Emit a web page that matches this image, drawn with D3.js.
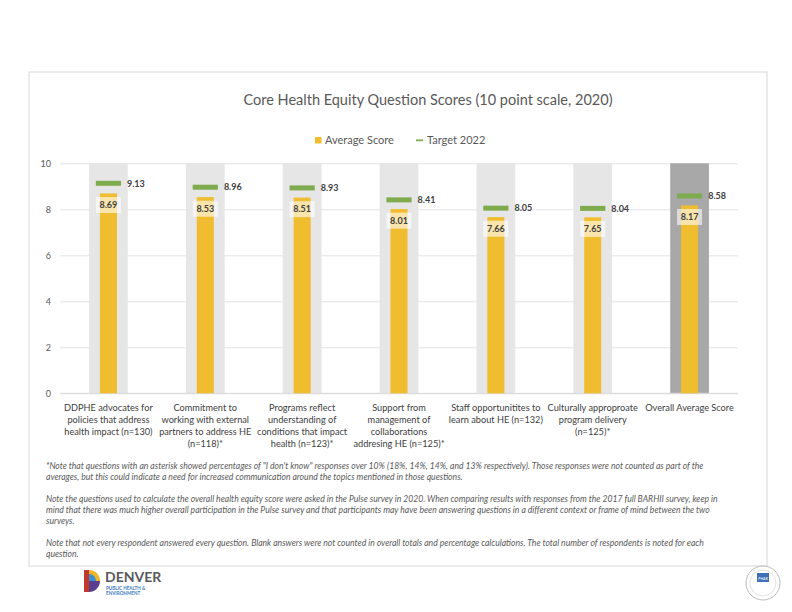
<!DOCTYPE html>
<html>
<head>
<meta charset="utf-8">
<script src="https://cdn.jsdelivr.net/npm/d3@7"></script>
<style>
  html, body { margin: 0; padding: 0; background: #ffffff; }
  svg { display: block; font-family: Lato, "Open Sans", sans-serif; }
</style>
</head>
<body>
<svg id="chart" width="792" height="612"></svg>
<script>
// ---- data ----
const categories = [
  "DDPHE advocates for policies that address health impact (n=130)",
  "Commitment to working with external partners to address HE (n=118)*",
  "Programs reflect understanding of conditions that impact health (n=123)*",
  "Support from management of collaborations addresing HE (n=125)*",
  "Staff opportunitites to learn about HE (n=132)",
  "Culturally approproate program delivery (n=125)*",
  "Overall Average Score"
];
const categoryLines = [
  ["DDPHE advocates for", "policies that address", "health impact (n=130)"],
  ["Commitment to", "working with external", "partners to address HE", "(n=118)*"],
  ["Programs reflect", "understanding of", "conditions that impact", "health (n=123)*"],
  ["Support from", "management of", "collaborations", "addresing HE (n=125)*"],
  ["Staff opportunitites to", "learn about HE (n=132)"],
  ["Culturally approproate", "program delivery", "(n=125)*"],
  ["Overall Average Score"]
];
const averageScore = [8.69, 8.53, 8.51, 8.01, 7.66, 7.65, 8.17];
const target2022 = [9.13, 8.96, 8.93, 8.41, 8.05, 8.04, 8.58];
const yTicks = [0, 2, 4, 6, 8, 10];
const chartTitle = "Core Health Equity Question Scores (10 point scale, 2020)";
const legendLabels = ["Average Score", "Target 2022"];
const footnotes = [
  [
    "*Note that questions with an asterisk showed percentages of \"I don't know\" responses over 10% (18%, 14%, 14%, and 13% respectively).  Those responses were not counted as part of the",
    "averages, but this could indicate a need for increased communication around the topics mentioned in those questions."
  ],
  [
    "Note the questions used to calculate the overall health equity score were asked in the Pulse survey in 2020.  When comparing results with responses from the 2017 full BARHII survey, keep in",
    "mind that there was much higher overall participation in the Pulse survey and that participants may have been answering questions in a different context or frame of mind between the two",
    "surveys."
  ],
  [
    "Note that not every respondent answered every question. Blank answers were not counted in overall totals and percentage calculations. The total number of respondents is noted for each",
    "question."
  ]
];

// ---- layout ----
const svg = d3.select("#chart");
const plot = { left: 60, right: 738, top: 163.3, bottom: 393.3 };
const colors = { bar: "#efbd2f", target: "#7fab4f", bg: "#e6e6e6", bgOverall: "#a9a8a8", grid: "#e3e3e3", text: "#404040", axis: "#595959" };

// frame
svg.append("rect").attr("x", 29).attr("y", 72).attr("width", 738).attr("height", 494)
  .attr("fill", "#fff").attr("stroke", "#dedede").attr("stroke-width", 1.2);

const x = d3.scaleBand().domain(categories).range([plot.left, plot.right]).padding(0);
const y = d3.scaleLinear().domain([0, 10]).range([plot.bottom, plot.top]);
const bw = x.bandwidth();

// gridlines + y axis labels
const yAxis = d3.axisLeft(y).tickValues(yTicks).tickSize(-(plot.right - plot.left)).tickPadding(9);
const gAxis = svg.append("g").attr("transform", `translate(${plot.left},0)`).call(yAxis);
gAxis.select(".domain").remove();
gAxis.selectAll(".tick line").attr("stroke", colors.grid).attr("stroke-width", 1);
gAxis.selectAll(".tick text").attr("fill", colors.axis).attr("font-size", 9).attr("font-family", "Lato, sans-serif");

// background columns (cover gridlines)
svg.append("g").selectAll("rect").data(categories).join("rect")
  .attr("x", d => x(d) + bw * 0.3)
  .attr("width", bw * 0.4)
  .attr("y", y(10))
  .attr("height", y(0) - y(10))
  .attr("fill", (d, i) => i === categories.length - 1 ? colors.bgOverall : colors.bg);

// baseline
svg.append("line").attr("x1", plot.left).attr("x2", plot.right).attr("y1", y(0)).attr("y2", y(0))
  .attr("stroke", "#d9d9d9").attr("stroke-width", 1);

// bars
const barW = bw * 0.176;
svg.append("g").selectAll("rect").data(averageScore).join("rect")
  .attr("x", (d, i) => x(categories[i]) + bw / 2 - barW / 2)
  .attr("width", barW)
  .attr("y", d => y(d))
  .attr("height", d => y(0) - y(d))
  .attr("fill", colors.bar);

// target markers
const tW = bw * 0.26;
svg.append("g").selectAll("rect").data(target2022).join("rect")
  .attr("x", (d, i) => x(categories[i]) + bw / 2 - tW / 2)
  .attr("width", tW)
  .attr("y", d => y(d) - 2.5)
  .attr("height", 5)
  .attr("fill", colors.target);

// target labels
svg.append("g").selectAll("text").data(target2022).join("text")
  .attr("x", (d, i) => x(categories[i]) + bw / 2 + tW / 2 + 6)
  .attr("y", d => y(d) + 3.2)
  .attr("font-size", 9).attr("font-weight", "bold").attr("fill", colors.text)
  .text(d => d.toFixed(2));

// average labels with box
const gAvg = svg.append("g");
averageScore.forEach((d, i) => {
  const cx = x(categories[i]) + bw / 2;
  const cy = y(d) + 11.6;
  gAvg.append("rect").attr("x", cx - 12.5).attr("y", cy - 8).attr("width", 25).attr("height", 16)
    .attr("fill", "#ffffff").attr("fill-opacity", 0.6);
  gAvg.append("text").attr("x", cx).attr("y", cy + 3.3).attr("text-anchor", "middle")
    .attr("font-size", 9).attr("font-weight", "bold").attr("fill", colors.text)
    .text(d.toFixed(2));
});

// category labels
const gCat = svg.append("g");
categoryLines.forEach((lines, i) => {
  const t = gCat.append("text").attr("text-anchor", "middle").attr("font-size", 9.2).attr("fill", colors.text);
  lines.forEach((ln, j) => {
    t.append("tspan").attr("x", x(categories[i]) + bw / 2).attr("y", 410.5 + j * 12).text(ln);
  });
});

// title
svg.append("text").attr("x", 428).attr("y", 104.5).attr("text-anchor", "middle")
  .attr("font-size", 14.5).attr("fill", "#595959").text(chartTitle);

// legend
svg.append("rect").attr("x", 315).attr("y", 137).attr("width", 6.5).attr("height", 6.5).attr("fill", colors.bar);
svg.append("text").attr("x", 325).attr("y", 144).attr("font-size", 11).attr("fill", "#595959").text(legendLabels[0]);
svg.append("line").attr("x1", 416).attr("x2", 423).attr("y1", 140.3).attr("y2", 140.3).attr("stroke", colors.target).attr("stroke-width", 1.8);
svg.append("text").attr("x", 427).attr("y", 144).attr("font-size", 11).attr("fill", "#595959").text(legendLabels[1]);

// footnotes
const paraY = [466, 499, 543];
const gNote = svg.append("g").attr("font-size", 8.6).attr("font-style", "italic").attr("fill", "#595959");
footnotes.forEach((para, p) => {
  para.forEach((ln, j) => {
    gNote.append("text").attr("x", 46).attr("y", paraY[p] + 3 + j * 11).text(ln);
  });
});

// Denver logo
const logo = svg.append("g");
logo.append("rect").attr("x", 84).attr("y", 570).attr("width", 5).attr("height", 22).attr("fill", "#c0392b");
logo.append("path").attr("d", "M89,570 A11,11 0 0 1 100,581 L89,581 Z").attr("fill", "#f0b429");
logo.append("path").attr("d", "M89,581 L100,581 A11,11 0 0 1 89,592 Z").attr("fill", "#5b3d8f");
logo.append("path").attr("d", "M89,574 A7,7 0 0 1 96,581 L89,581 Z").attr("fill", "#3a8fd0");
logo.append("text").attr("x", 105).attr("y", 582).attr("font-size", 14).attr("font-weight", "bold").attr("fill", "#58595b").text("DENVER");
logo.append("text").attr("x", 106).attr("y", 590).attr("font-size", 4.6).attr("font-weight", "bold").attr("fill", "#3b7bbf").text("PUBLIC HEALTH &");
logo.append("text").attr("x", 106).attr("y", 595).attr("font-size", 4.6).attr("font-weight", "bold").attr("fill", "#3b7bbf").text("ENVIRONMENT");

// PHAB seal
const seal = svg.append("g");
seal.append("circle").attr("cx", 763).attr("cy", 583).attr("r", 17).attr("fill", "#fff").attr("stroke", "#bbbbbb").attr("stroke-width", 1);
seal.append("circle").attr("cx", 763).attr("cy", 583).attr("r", 13).attr("fill", "none").attr("stroke", "#cccccc").attr("stroke-width", 0.6);
seal.append("rect").attr("x", 757).attr("y", 573).attr("width", 12).attr("height", 9).attr("fill", "#3f6fb6");
seal.append("text").attr("x", 763).attr("y", 580).attr("text-anchor", "middle").attr("font-size", 3.5).attr("fill", "#fff").text("PHAB");
</script>
</body>
</html>
